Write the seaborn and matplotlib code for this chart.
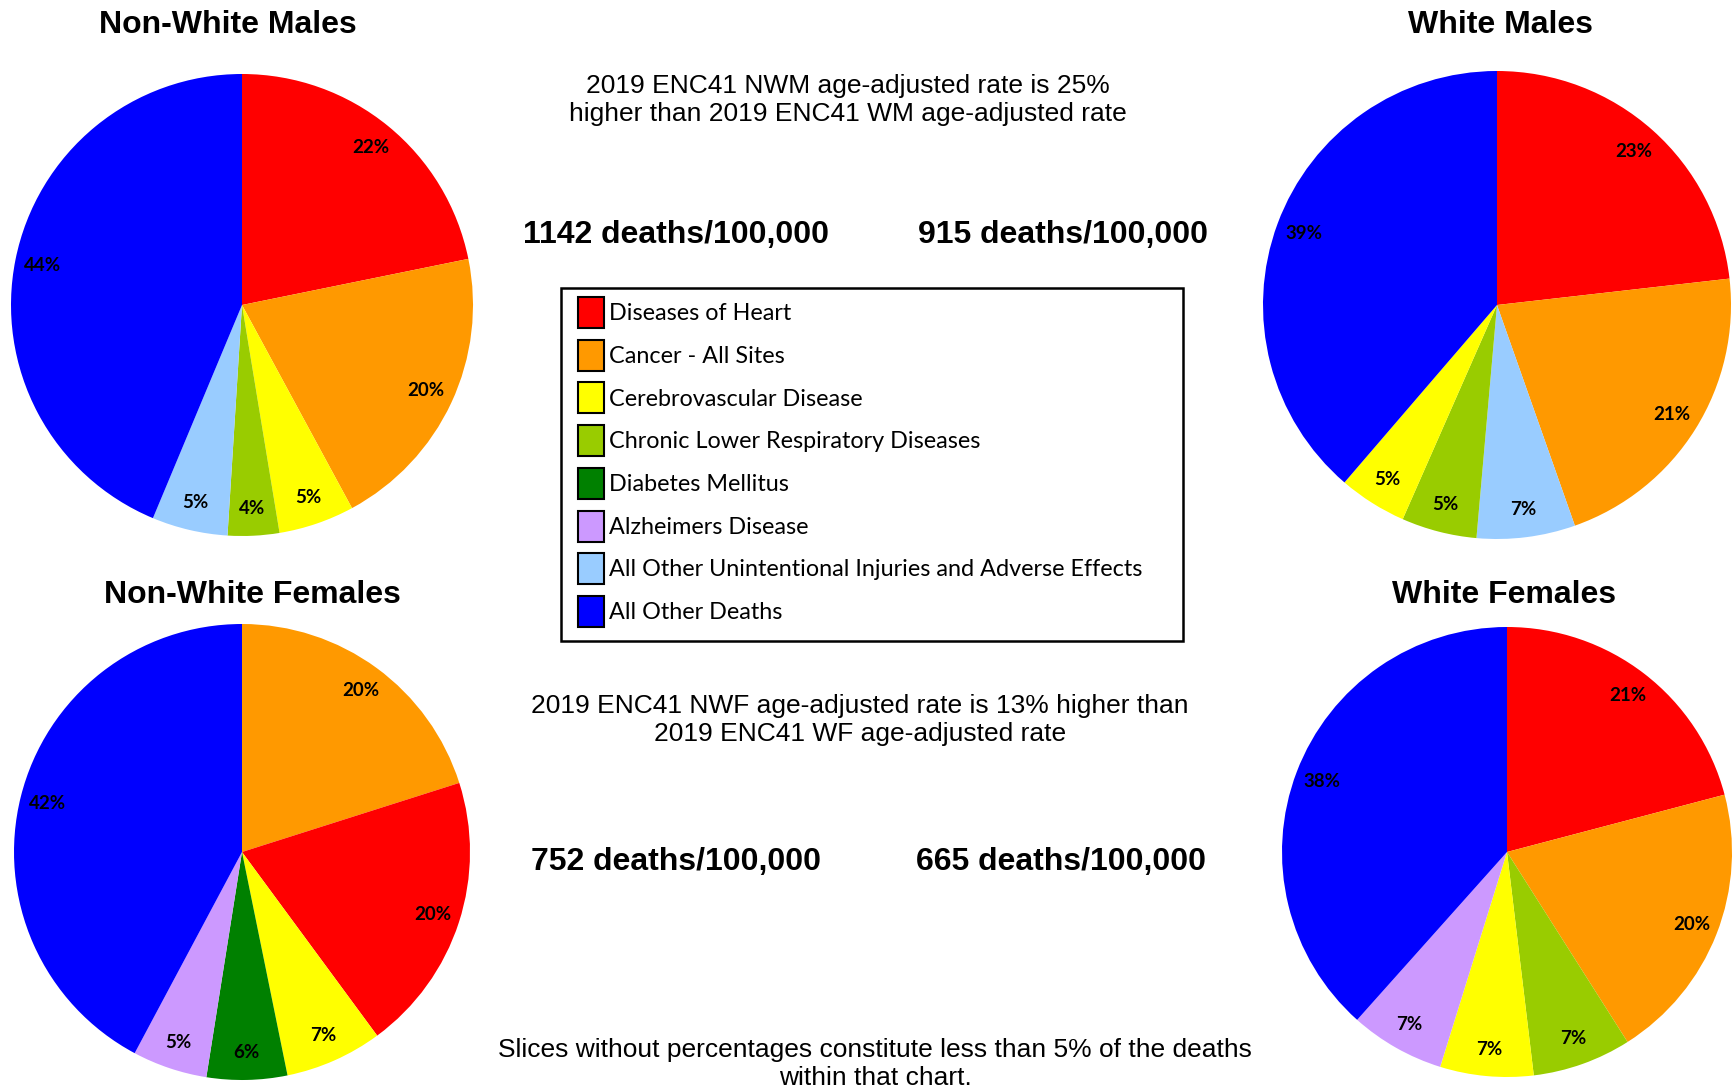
import numpy as np
import pandas as pd
import seaborn as sns
import matplotlib.pyplot as plt
from matplotlib.patches import Patch, Rectangle

# canvas in pixels (dpi 100)
W, H = 1734, 1092

causes = ['Diseases of Heart', 'Cancer - All Sites', 'Cerebrovascular Disease',
          'Chronic Lower Respiratory Diseases', 'Diabetes Mellitus', 'Alzheimers Disease',
          'All Other Unintentional Injuries and Adverse Effects', 'All Other Deaths']
cause_colors = ['#FF0000', '#FF9900', '#FFFF00', '#99CC00', '#008000', '#CC99FF', '#99CCFF', '#0000FF']

# slices, clockwise from 12 o'clock
nwm_causes = ['Diseases of Heart', 'Cancer - All Sites', 'Cerebrovascular Disease',
              'Chronic Lower Respiratory Diseases',
              'All Other Unintentional Injuries and Adverse Effects', 'All Other Deaths']
nwm_pct = [21.8, 20.3, 5.3, 3.6, 5.3, 43.7]

wm_causes = ['Diseases of Heart', 'Cancer - All Sites',
             'All Other Unintentional Injuries and Adverse Effects',
             'Chronic Lower Respiratory Diseases', 'Cerebrovascular Disease', 'All Other Deaths']
wm_pct = [23.2, 21.4, 6.8, 5.2, 4.7, 38.7]

nwf_causes = ['Cancer - All Sites', 'Diseases of Heart', 'Cerebrovascular Disease',
              'Diabetes Mellitus', 'Alzheimers Disease', 'All Other Deaths']
nwf_pct = [20.1, 19.8, 6.9, 5.7, 5.3, 42.2]

wf_causes = ['Diseases of Heart', 'Cancer - All Sites', 'Chronic Lower Respiratory Diseases',
             'Cerebrovascular Disease', 'Alzheimers Disease', 'All Other Deaths']
wf_pct = [20.9, 20.1, 7.1, 6.7, 6.8, 38.4]

rates = ['1142 deaths/100,000', '915 deaths/100,000', '752 deaths/100,000', '665 deaths/100,000']


def pie_axes(fig, cx, cy, r):
    """Square axes centred on pixel (cx, cy) with pixel radius r"""
    return fig.add_axes([(cx - r) / W, (H - cy - r) / H, 2 * r / W, 2 * r / H])


def make_pie(ax, names, pct):
    color_map = dict(zip(causes, cause_colors))
    ax.pie(pct, colors=[color_map[n] for n in names], startangle=90, counterclock=False,
           autopct='%.0f%%', pctdistance=0.88, wedgeprops={'linewidth': 0},
           textprops={'fontsize': 13.5, 'fontweight': 'bold', 'family': 'Lato', 'color': 'black'})
    ax.set_xlim(-1, 1)
    ax.set_ylim(-1, 1)
    ax.axis('off')


def px_text(fig, x, y, s, size, weight='normal'):
    fig.text(x / W, 1 - y / H, s, ha='center', va='center', fontsize=size,
             fontweight=weight, linespacing=1.25, color='black')


sns.set_theme(style='white')
plt.rcParams['font.family'] = ['Liberation Sans', 'DejaVu Sans']
plt.rcParams['text.color'] = 'black'

fig = plt.figure(figsize=(W / 100, H / 100), dpi=100)
fig.patch.set_facecolor('white')

make_pie(pie_axes(fig, 242, 305, 231), nwm_causes, nwm_pct)
make_pie(pie_axes(fig, 1497, 305, 234), wm_causes, wm_pct)
make_pie(pie_axes(fig, 242, 852, 228), nwf_causes, nwf_pct)
make_pie(pie_axes(fig, 1507, 852, 225), wf_causes, wf_pct)

# titles
px_text(fig, 228, 25, 'Non-White Males', 23, 'bold')
px_text(fig, 1501, 25, 'White Males', 23, 'bold')
px_text(fig, 252, 595, 'Non-White Females', 23, 'bold')
px_text(fig, 1504, 595, 'White Females', 23, 'bold')

# middle annotations
px_text(fig, 848, 100, '2019 ENC41 NWM age-adjusted rate is 25%\nhigher than 2019 ENC41 WM age-adjusted rate', 19)
px_text(fig, 676, 235, rates[0], 23, 'bold')
px_text(fig, 1063, 235, rates[1], 23, 'bold')
px_text(fig, 860, 720, '2019 ENC41 NWF age-adjusted rate is 13% higher than\n2019 ENC41 WF age-adjusted rate', 19)
px_text(fig, 676, 862, rates[2], 23, 'bold')
px_text(fig, 1061, 862, rates[3], 23, 'bold')
px_text(fig, 875, 1064, 'Slices without percentages constitute less than 5% of the deaths\nwithin that chart.', 19)

# legend with its own frame
fig.add_artist(Rectangle((561 / W, 1 - 641 / H), (1183 - 561) / W, (641 - 288) / H,
                         transform=fig.transFigure, fill=False, edgecolor='black', linewidth=1.8))
handles = [Patch(facecolor=c, edgecolor='black', linewidth=1.5, label=n)
           for n, c in zip(causes, cause_colors)]
fig.legend(handles=handles, loc='upper left', bbox_to_anchor=(578 / W, 1 - 297 / H),
           frameon=False, prop={'family': 'Lato', 'size': 16.8},
           handlelength=1.12, handleheight=1.67, labelspacing=0.5, handletextpad=0.2,
           borderpad=0, borderaxespad=0)

plt.savefig('out.png', dpi=100)
